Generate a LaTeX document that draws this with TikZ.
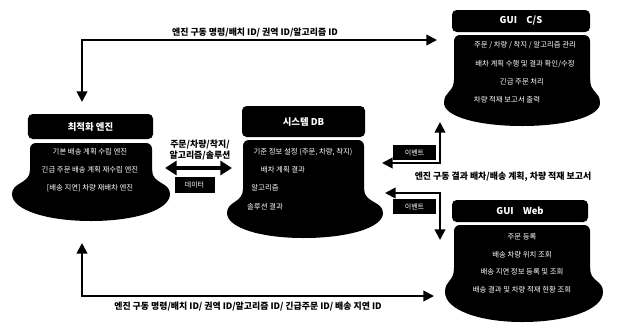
\documentclass[tikz,border=0pt]{standalone}
\usepackage{fontspec}
\setmainfont{Noto Sans CJK KR}
\usetikzlibrary{arrows.meta}
\newcommand\hatbody[7]{%
 \fill[rounded corners=5] (#1,#3) rectangle (#2,#6);
 \fill (#1,#6-24) .. controls (#1,#6-10) and (#4,#6-12) .. (#4,#6)
   .. controls (#4,{#6+0.6*(#7-#6)}) and ({#4+0.45*((#1+#2)/2-#4)},#7) .. ({(#1+#2)/2},#7)
   .. controls ({#5-0.45*(#5-(#1+#2)/2)},#7) and (#5,{#6+0.6*(#7-#6)}) .. (#5,#6)
   .. controls (#5,#6-12) and (#2,#6-10) .. (#2,#6-24) -- cycle;}
\tikzset{
  titlebox/.style={fill=black,text=white,rounded corners=4pt,inner sep=0pt,font=\fontsize{8}{9}\selectfont\bfseries},
  inner/.style={text=white,inner sep=0pt,font=\fontsize{6.3}{7}\selectfont},
  smallbox/.style={fill=black,text=white,inner sep=0pt,minimum width=1.2cm,minimum height=0.46cm,font=\fontsize{6}{7}\selectfont},
  lab/.style={inner sep=0pt,font=\fontsize{7.6}{9}\selectfont\bfseries,align=center},
  conn/.style={line width=1.6pt,{Triangle[length=9pt,width=9pt]}-{Triangle[length=9pt,width=9pt]}},
  bigconn/.style={line width=3.4pt,{Triangle[length=10pt,width=12pt]}-{Triangle[length=10pt,width=12pt]}}
}
\begin{document}
\begin{tikzpicture}[x=0.03cm,y=-0.03cm]
\useasboundingbox[fill=white] (0,0) rectangle (622,328);
% bodies
\hatbody{30}{152}{143}{12}{170}{194}{221}
\hatbody{243}{364}{140}{227}{383}{213}{238}
\hatbody{454}{590}{35}{444}{600}{103}{126}
\hatbody{454}{590}{225}{445}{603}{292}{322}
% titles
\node[titlebox,minimum width=3.75cm,minimum height=0.75cm] (eng) at (90.5,126.5) {최적화 엔진};
\node[titlebox,minimum width=3.69cm,minimum height=0.93cm] (db) at (303.5,121.5) {시스템 DB};
\node[titlebox,minimum width=4.14cm,minimum height=0.66cm] (cs) at (521,21) {GUI\quad C/S};
\node[titlebox,minimum width=4.08cm,minimum height=0.66cm] (web) at (520,211) {GUI\quad Web};
% inner texts
\node[inner] (e1) at (90,152) {기본 배송 계획 수립 엔진};
\node[inner] (e2) at (90,170) {긴급 주문 배송 계획 재수립 엔진};
\node[inner] (e3) at (90,188) {[배송 지연] 차량 재배차 엔진};
\node[inner] (d1) at (303,152) {기준 정보 설정 (주문, 차량, 착지)};
\node[inner] (d2) at (283,170) {배차 계획 결과};
\node[inner] (d3) at (265,188) {알고리즘};
\node[inner] (d4) at (265,207) {솔루션 결과};
\node[inner] (c1) at (525,45) {주문 / 차량 / 착지 / 알고리즘 관리};
\node[inner] (c2) at (525,64) {배차 계획 수행 및 결과 확인/수정};
\node[inner] (c3) at (522,82) {긴급 주문 처리};
\node[inner] (c4) at (507,100) {차량 적재 보고서 출력};
\node[inner] (w1) at (522,237) {주문 등록};
\node[inner] (w2) at (522,255) {배송 차량 위치 조회};
\node[inner] (w3) at (522,272) {배송 지연 정보 등록 및 조회};
\node[inner] (w4) at (522,290) {배송 결과 및 차량 적재 현황 조회};
% small boxes
\node[smallbox] (b1) at (194.5,185) {데이터};
\node[smallbox,minimum width=1.29cm] (b2) at (414.5,152.5) {이벤트};
\node[smallbox,minimum width=1.29cm] (b3) at (414.5,206.5) {이벤트};
% coordinates for connectors
\coordinate (t1) at (82,102);
\coordinate (t2) at (437,40);
\coordinate (u1) at (82,243);
\coordinate (u2) at (434,296);
\coordinate (m1) at (165,168);
\coordinate (m2) at (232,168);
\coordinate (r1) at (440,122);
\coordinate (r2) at (382,163);
\coordinate (r3) at (385,193);
\coordinate (r4) at (440,240);
% connectors
\draw[conn] (t1) |- (t2);
\draw[conn] (u1) |- (u2);
\draw[bigconn] (m1) -- (m2);
\draw[conn] (r1) |- (r2);
\draw[conn] (r3) -| (r4);
% labels
\node[lab] (lt) at (255,33) {엔진 구동 명령/배치 ID/ 권역 ID/알고리즘 ID};
\node[lab] (lb) at (248,307) {엔진 구동 명령/배치 ID/ 권역 ID/알고리즘 ID/ 긴급주문 ID/ 배송 지연 ID};
\node[lab] (lm) at (200,150) {주문/차량/착지/\\알고리즘/솔루션};
\node[lab] (lr) at (503,177) {엔진 구동 결과 배차/배송 계획, 차량 적재 보고서};
\end{tikzpicture}
\end{document}
